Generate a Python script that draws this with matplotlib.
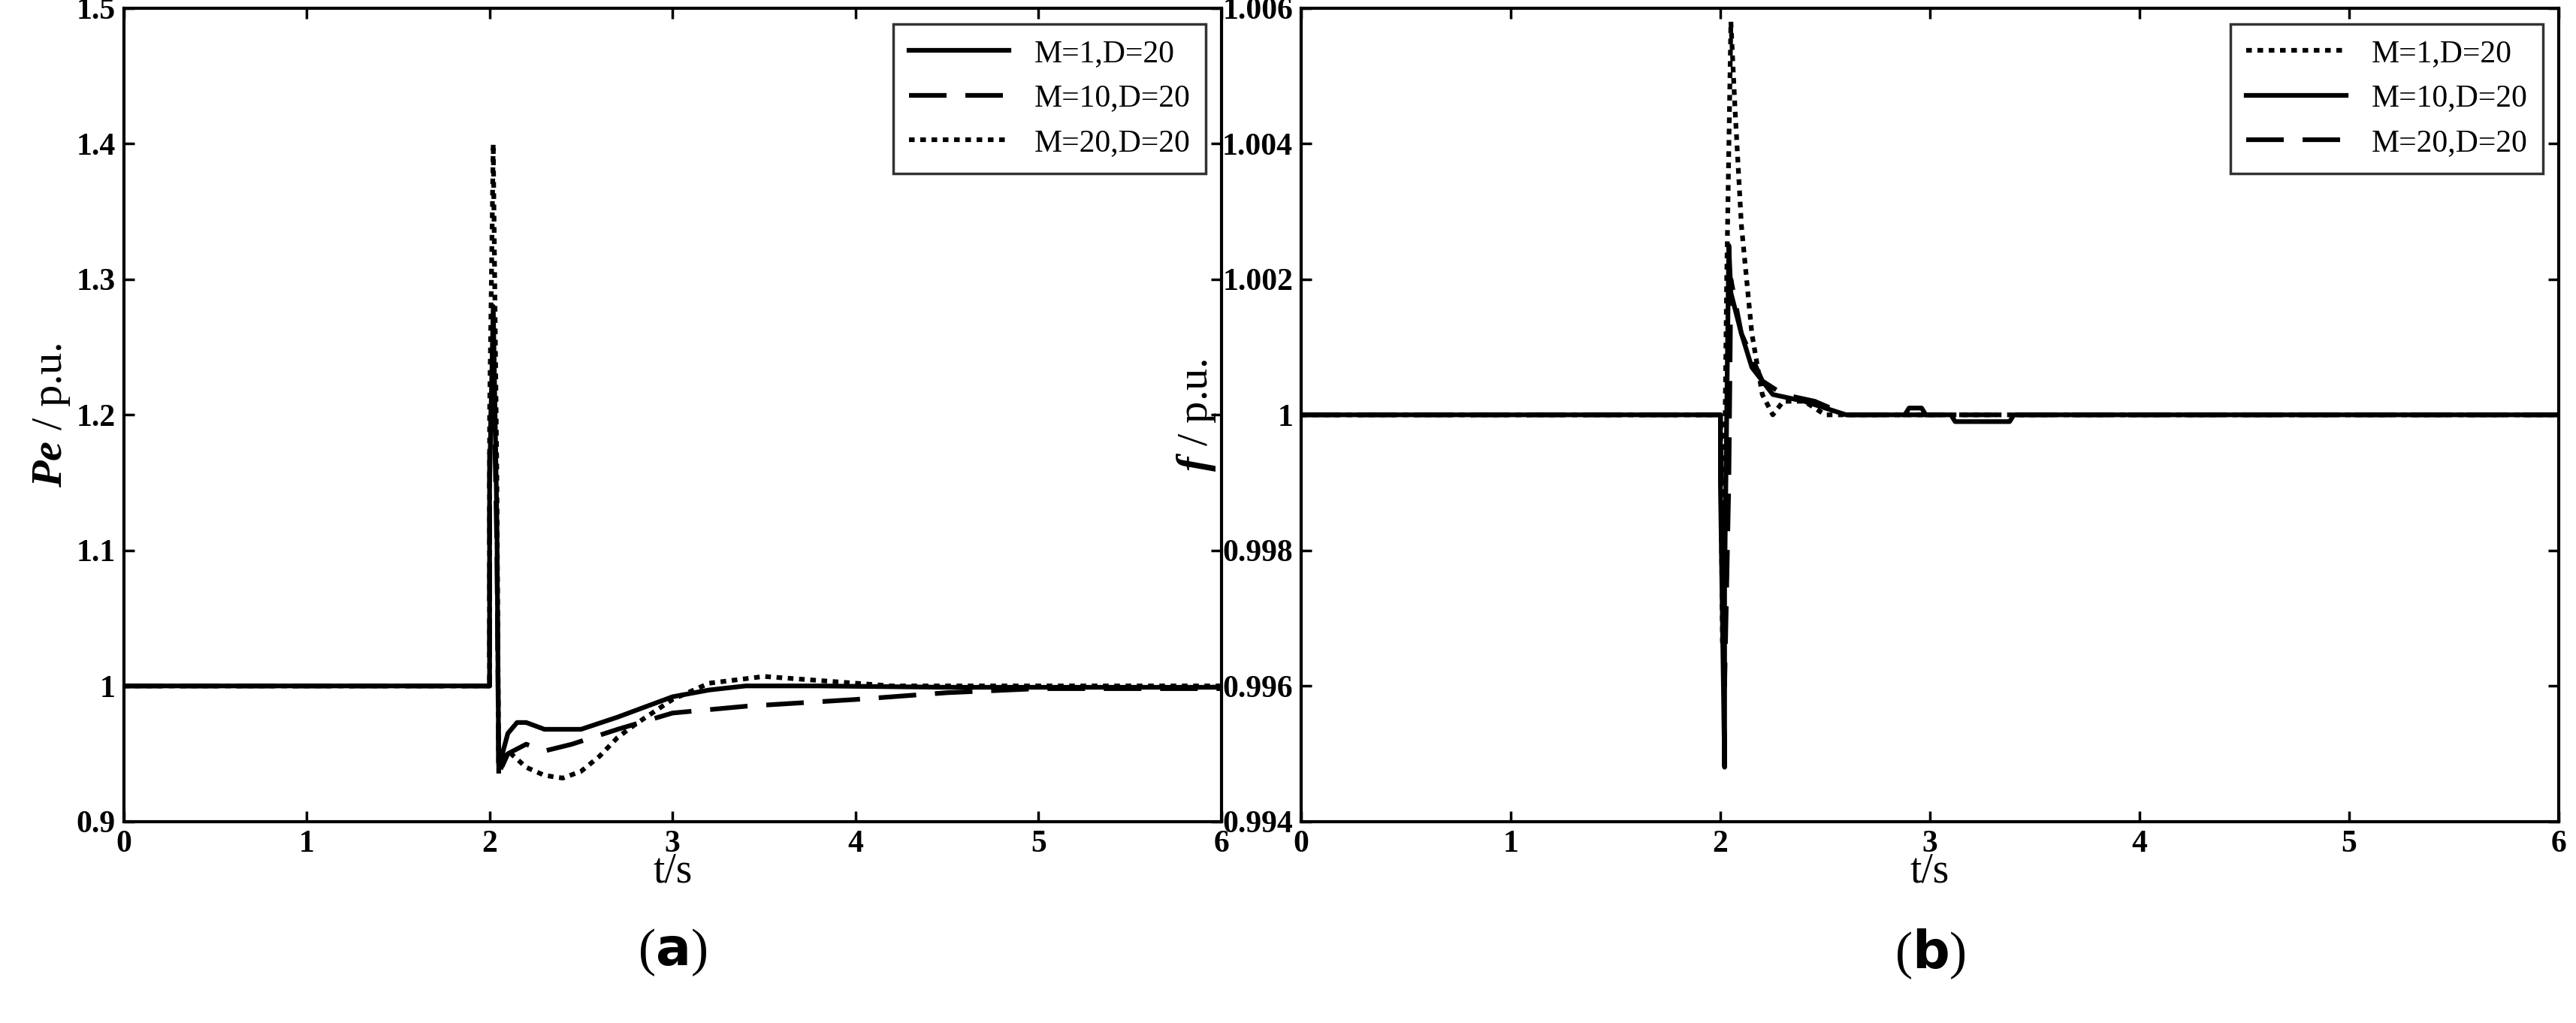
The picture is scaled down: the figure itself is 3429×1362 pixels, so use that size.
import numpy as np
import matplotlib.pyplot as plt

plt.rcParams['font.family'] = ['Liberation Serif', 'DejaVu Serif']
plt.rcParams['font.weight'] = 'bold'
plt.rcParams['mathtext.fontset'] = 'custom'
plt.rcParams['mathtext.it'] = 'Liberation Serif:italic:bold'
plt.rcParams['mathtext.rm'] = 'Liberation Serif:bold'

# (a) electrical power
t_pe1 = [0, 2.0, 2.0, 2.02, 2.04, 2.05, 2.1, 2.15, 2.2, 2.3, 2.5, 2.7, 2.9, 3.0, 3.2, 3.4, 3.8, 4.5, 6.0]
pe1 = [1, 1, 1.15, 1.28, 1.12, 0.94, 0.965, 0.973, 0.973, 0.968, 0.968, 0.977, 0.987, 0.992, 0.997, 1.0, 1.0, 0.999, 0.999]
t_pe2 = [0, 2.0, 2.0, 2.02, 2.04, 2.05, 2.1, 2.2, 2.3, 2.45, 2.7, 3.0, 3.4, 4.0, 4.5, 5.0, 6.0]
pe2 = [1, 1, 1.17, 1.245, 1.1, 0.935, 0.95, 0.957, 0.952, 0.957, 0.968, 0.98, 0.985, 0.99, 0.995, 0.998, 0.998]
t_pe3 = [0, 2.0, 2.0, 2.02, 2.04, 2.05, 2.1, 2.2, 2.3, 2.4, 2.5, 2.6, 2.7, 2.8, 3.0, 3.2, 3.5, 3.8, 4.2, 6.0]
pe3 = [1, 1, 1.2, 1.40, 1.15, 0.935, 0.952, 0.94, 0.934, 0.932, 0.937, 0.948, 0.962, 0.972, 0.99, 1.002, 1.007, 1.004, 1.0, 1.0]

# (b) frequency
t_f1 = [0, 2.0, 2.01, 2.03, 2.05, 2.07, 2.1, 2.15, 2.2, 2.25, 2.3, 2.4, 2.5, 6.0]
f1 = [1, 1, 0.9966, 1.002, 1.0058, 1.0045, 1.0028, 1.0012, 1.0003, 1.0, 1.0002, 1.0002, 1.0, 1.0]
t_f2 = [0, 2.0, 2.0, 2.02, 2.02, 2.04, 2.05, 2.1, 2.15, 2.25, 2.4, 2.6, 2.88, 2.9, 2.96, 2.98, 3.1, 3.12, 3.38, 3.4, 6.0]
f2 = [1, 1, 0.999, 0.9948, 0.9975, 1.0025, 1.0018, 1.0012, 1.0007, 1.0003, 1.0002, 1.0, 1.0, 1.0001, 1.0001, 1.0, 1.0, 0.9999, 0.9999, 1.0, 1.0]
t_f3 = [0, 2.0, 2.02, 2.04, 2.05, 2.1, 2.2, 2.3, 2.45, 2.6, 6.0]
f3 = [1, 1, 0.996, 0.999, 1.002, 1.0012, 1.0005, 1.0003, 1.0002, 1.0, 1.0]

labels = ['M=1,D=20', 'M=10,D=20', 'M=20,D=20']

fig = plt.figure(figsize=(34.3, 13.62), dpi=100)
ax1 = fig.add_axes([0.048, 0.197, 0.426, 0.795])
ax2 = fig.add_axes([0.505, 0.197, 0.488, 0.795])

lw = 4.5
dash = (8, 4)
dot = (1.2, 1.2)
ax1.plot(t_pe1, pe1, 'k-', lw=lw, label=labels[0])
ax1.plot(t_pe2, pe2, 'k', lw=lw, dashes=dash, label=labels[1])
ax1.plot(t_pe3, pe3, 'k', lw=lw, dashes=dot, label=labels[2])
ax1.set_xlim(0, 6)
ax1.set_ylim(0.9, 1.5)
ax1.set_yticks([0.9, 1, 1.1, 1.2, 1.3, 1.4, 1.5])
ax1.set_yticklabels(['0.9', '1', '1.1', '1.2', '1.3', '1.4', '1.5'])
ax1.set_ylabel(r'$Pe$ / p.u.', fontsize=42)

ax2.plot(t_f1, f1, 'k', lw=lw, dashes=dot, label=labels[0])
ax2.plot(t_f2, f2, 'k-', lw=lw, label=labels[1])
ax2.plot(t_f3, f3, 'k', lw=lw, dashes=dash, label=labels[2])
ax2.set_xlim(0, 6)
ax2.set_ylim(0.994, 1.006)
ax2.set_yticks([0.994, 0.996, 0.998, 1.0, 1.002, 1.004, 1.006])
ax2.set_yticklabels(['0.994', '0.996', '0.998', '1', '1.002', '1.004', '1.006'])
ax2.set_ylabel(r'$f$ / p.u.', fontsize=42)

for ax, cap in [(ax1, 'a'), (ax2, 'b')]:
    ax.set_xticks(range(7))
    ax.tick_params(direction='in', length=10, width=2.5, labelsize=30, top=True, right=True, pad=8)
    for s in ax.spines.values():
        s.set_linewidth(3)
    ax.set_xlabel('t/s', fontsize=40, labelpad=-6)
    ax.legend(loc='upper right', frameon=True, fancybox=False,
              edgecolor='black', handlelength=3.2, borderpad=0.5,
              prop={'weight': 'normal', 'size': 30}).get_frame().set_linewidth(2.5)
    ax.text(0.5, -0.13, r'($\mathbf{' + cap + r'}$)', transform=ax.transAxes, ha='center', va='top',
            fontsize=50, fontweight='normal')

fig.savefig('out.png')
